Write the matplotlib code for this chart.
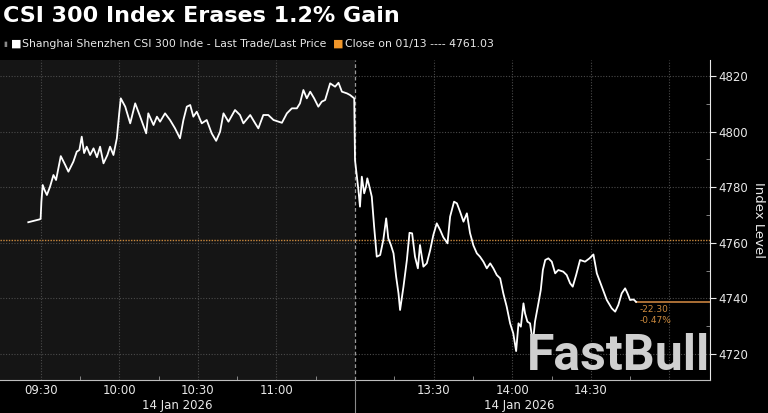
import numpy as np
import matplotlib.pyplot as plt
from matplotlib.lines import Line2D

# trading minutes since 09:30 (afternoon session continues at 120 = 13:00)
minutes = [
    -4.7, -0.5, 0.0, 0.3, 0.8, 1.5, 2.4, 3.6, 4.9, 5.9, 7.7, 9.4, 10.6, 12.5, 13.8,
    14.8, 15.7, 16.6, 17.6, 18.9, 20.2, 21.5, 22.7, 24.0, 25.5, 26.5, 27.8, 29.1,
    30.0, 30.6, 32.3, 34.2, 36.1, 38.0, 40.3, 41.1, 43.1, 44.4, 45.6, 47.5, 49.4,
    51.3, 53.2, 54.5, 55.8, 57.1, 58.3, 59.6, 61.5, 63.4, 65.3, 67.0, 68.5, 69.8,
    71.7, 74.2, 76.1, 77.4, 80.0, 81.9, 83.1, 85.0, 86.9, 88.9, 92.1, 94.0, 95.9,
    97.8, 99.0, 100.3, 101.6, 102.9, 104.4, 106.0, 107.3, 108.6, 110.5, 112.4,
    113.7, 115.0, 116.9, 118.1, 119.7,
    120.0, 121.3, 121.9, 122.6, 123.5, 124.2, 124.7, 125.5, 126.4, 127.3, 128.3,
    129.6, 130.8, 131.9, 132.7, 133.7, 134.7, 135.7, 136.6, 137.2, 138.5, 139.8,
    140.8, 141.8, 142.9, 144.0, 144.8, 146.1, 147.4, 148.7, 149.9, 151.2, 152.5,
    153.7, 155.3, 156.3, 157.8, 158.9, 160.1, 161.4, 162.7, 163.9, 165.2, 166.5,
    167.7, 169.0, 170.3, 171.6, 172.8, 174.1, 175.4, 176.6, 177.9, 179.2, 180.4,
    181.5, 182.4, 183.3, 184.3, 184.9, 185.8, 186.8, 187.9, 188.7, 190.0, 190.9,
    191.7, 192.6, 193.8, 195.1, 196.4, 197.6, 199.5, 200.8, 202.1, 203.1, 204.4,
    205.9, 207.8, 209.5, 211.0, 212.3, 214.2, 216.1, 218.0, 219.3, 220.5, 221.8,
    223.1, 224.0, 225.0, 226.3, 227.3,
]
prices = [
    4767.4, 4768.4, 4768.6, 4774.8, 4780.8, 4779.0, 4777.2, 4780.2, 4784.4, 4782.6,
    4791.2, 4788.0, 4785.6, 4789.2, 4792.8, 4793.4, 4798.2, 4792.3, 4794.6, 4791.6,
    4794.0, 4790.8, 4794.6, 4788.6, 4791.6, 4794.6, 4791.6, 4797.6, 4806.6, 4812.0,
    4809.0, 4803.0, 4810.2, 4805.4, 4799.4, 4806.6, 4802.4, 4805.4, 4803.6, 4806.6,
    4804.2, 4801.2, 4797.6, 4804.2, 4809.0, 4809.6, 4805.4, 4807.2, 4803.0, 4804.2,
    4799.4, 4796.7, 4800.0, 4806.6, 4803.6, 4807.8, 4806.0, 4803.0, 4806.0, 4803.0,
    4801.2, 4806.0, 4806.0, 4804.2, 4803.2, 4806.6, 4808.4, 4808.4, 4810.2, 4815.0,
    4812.0, 4814.4, 4812.0, 4809.0, 4810.8, 4811.4, 4817.4, 4816.2, 4817.6, 4814.4,
    4813.8, 4813.2, 4812.0,
    4789.8, 4779.0, 4773.0, 4783.8, 4777.8, 4780.2, 4783.2, 4780.2, 4776.6, 4765.8,
    4755.0, 4755.6, 4761.0, 4768.8, 4761.6, 4759.2, 4756.2, 4747.8, 4741.8, 4735.8,
    4744.2, 4753.8, 4763.6, 4763.4, 4755.0, 4750.8, 4759.2, 4751.4, 4752.6, 4757.4,
    4762.8, 4767.0, 4764.6, 4762.0, 4759.8, 4769.4, 4774.8, 4774.2, 4771.2, 4767.6,
    4770.6, 4763.5, 4759.0, 4756.2, 4755.0, 4753.2, 4750.8, 4752.6, 4750.8, 4748.4,
    4747.2, 4741.8, 4737.0, 4731.0, 4727.4, 4721.0, 4731.0, 4729.8, 4738.2, 4734.6,
    4731.6, 4731.0, 4724.0, 4731.6, 4738.2, 4743.0, 4750.2, 4753.8, 4754.4, 4753.2,
    4749.0, 4750.2, 4749.6, 4748.4, 4745.4, 4744.2, 4748.4, 4753.8, 4753.2, 4754.4,
    4755.8, 4749.0, 4744.2, 4739.4, 4736.4, 4735.2, 4737.6, 4741.8, 4743.6, 4741.8,
    4739.4, 4739.6, 4738.73,
]

prev_close = 4761.03
change = -22.30
change_pct = -0.47

tick_minutes = [0, 30, 60, 90, 150, 180, 210]
tick_labels = ['09:30', '10:00', '10:30', '11:00', '13:30', '14:00', '14:30']
grid_minutes = [0, 30, 60, 90, 150, 180, 210, 240]
y_ticks = [4720, 4740, 4760, 4780, 4800, 4820]

fg = '#e8e8e8'
orange = '#cc8a3e'

fig = plt.figure(figsize=(7.68, 4.13), dpi=100, facecolor='black')
ax = fig.add_axes([0.0, 0.0799, 0.9245, 0.7748])
ax.set_facecolor('black')

x_lo, x_hi = -15.5, 255.5
ax.set_xlim(x_lo, x_hi)
ax.set_ylim(4710.6, 4825.8)

# morning session shaded a bit lighter
ax.axvspan(x_lo, 120, color='#151515', zorder=0, lw=0)

for m in grid_minutes:
    ax.axvline(m, color='#4a4a4a', lw=0.8, ls=(0, (1, 1.5)), zorder=1)
for v in y_ticks:
    ax.axhline(v, color='#4a4a4a', lw=0.8, ls=(0, (1, 1.5)), zorder=1)
ax.axvline(120, color='#9a9a9a', lw=0.9, ls=(0, (3, 2)), zorder=1)

# previous close and last-price marker
ax.axhline(prev_close, color=orange, lw=1.0, ls=(0, (1, 1)), zorder=2)
ax.plot([minutes[-1], x_hi], [prices[-1], prices[-1]], color='#b8783a', lw=1.3, zorder=2)

ax.plot(minutes, prices, color='white', lw=1.3, zorder=3)

ax.text(minutes[-1] + 1.2, prices[-1] - 2.6, f'{change:.2f}', color=orange,
        fontsize=6.5, va='center', ha='left')
ax.text(minutes[-1] + 1.2, prices[-1] - 6.6, f'{change_pct:.2f}%', color=orange,
        fontsize=6.5, va='center', ha='left')

for s in ['top', 'left']:
    ax.spines[s].set_visible(False)
ax.spines['right'].set_color(fg)
ax.spines['bottom'].set_color('#bdbdbd')

ax.set_xticks(tick_minutes)
ax.set_xticklabels(tick_labels)
ax.set_xticks([15, 45, 75, 105, 135, 165, 195, 225], minor=True)
ax.tick_params(axis='x', which='major', colors=fg, labelsize=8.5, length=0, pad=3)
ax.tick_params(axis='x', which='minor', colors='#999999', direction='in', length=3)

ax.yaxis.tick_right()
ax.yaxis.set_label_position('right')
ax.set_yticks(y_ticks)
ax.set_yticks([4730, 4750, 4770, 4790, 4810], minor=True)
ax.tick_params(axis='y', which='major', colors=fg, labelsize=8.5, length=4, pad=2)
ax.tick_params(axis='y', which='minor', colors='#999999', length=3, direction='in')
ax.set_ylabel('Index Level', color=fg, fontsize=9.5, rotation=270, labelpad=12)

fig.text(177 / 768, 1 - 405 / 413, '14 Jan 2026', color=fg, fontsize=8.5,
         ha='center', va='center')
fig.text(519 / 768, 1 - 405 / 413, '14 Jan 2026', color=fg, fontsize=8.5,
         ha='center', va='center')
fig.add_artist(Line2D([355 / 768, 355 / 768], [0, 0.08], color='#8a8a8a', lw=0.8))

# title and legend line
fig.text(3 / 768, 1 - 16 / 413, 'CSI 300 Index Erases 1.2% Gain', color='white',
         fontsize=16, fontweight='bold', ha='left', va='center')
fig.text(3 / 768, 1 - 44 / 413, '▮', color='#888888', fontsize=5, ha='left', va='center')
fig.text(11 / 768, 1 - 44 / 413, '■', color='white', fontsize=8, ha='left', va='center')
fig.text(22 / 768, 1 - 44 / 413, 'Shanghai Shenzhen CSI 300 Inde - Last Trade/Last Price',
         color=fg, fontsize=7.8, ha='left', va='center')
fig.text(333 / 768, 1 - 44 / 413, '■', color='#f0962a', fontsize=8, ha='left', va='center')
fig.text(345 / 768, 1 - 44 / 413, f'Close on 01/13 ---- {prev_close:.2f}',
         color=fg, fontsize=7.8, ha='left', va='center')

# watermark
fig.text(618 / 768, 1 - 357 / 413, 'FastBull', color='#cfcfcf', fontsize=36,
         fontweight='bold', family='Roboto', ha='center', va='center', zorder=10)

fig.savefig('out.png', dpi=100, facecolor='black')
